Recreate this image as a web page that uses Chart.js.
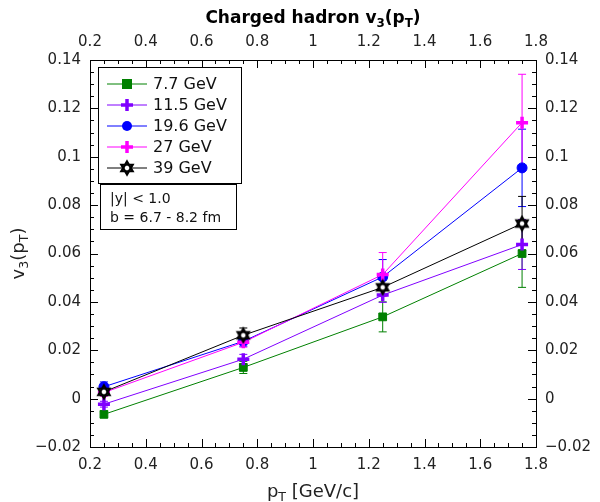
<!DOCTYPE html>
<html>
<head>
<meta charset="utf-8">
<script src="https://cdn.jsdelivr.net/npm/chart.js@4"></script>
<style>
  html, body { margin: 0; padding: 0; background: #fff; }
  #wrap { width: 600px; height: 502px; }
</style>
</head>
<body>
<div id="wrap"><canvas id="myChart" width="600" height="502"></canvas></div>
<script>
// pT bin centres (GeV/c)
const ptBins = [0.25, 0.75, 1.25, 1.75];

// v3 values and errors per beam energy
const v3_7p7 = [-0.0065, 0.0129, 0.0338, 0.0600];
const err_7p7 = [0.0012, 0.0025, 0.0062, 0.0140];
const v3_11p5 = [-0.0023, 0.0163, 0.0428, 0.0637];
const err_11p5 = [0.0012, 0.0020, 0.0030, 0.0103];
const v3_19p6 = [0.0049, 0.0237, 0.0503, 0.0954];
const err_19p6 = [0.0020, 0.0020, 0.0072, 0.0160];
const v3_27 = [0.0025, 0.0233, 0.0513, 0.1141];
const err_27 = [0.0015, 0.0020, 0.0091, 0.0200];
const v3_39 = [0.0028, 0.0262, 0.0460, 0.0724];
const err_39 = [0.0015, 0.0030, 0.0030, 0.0112];

const energyLabels = ['7.7 GeV', '11.5 GeV', '19.6 GeV', '27 GeV', '39 GeV'];
const infoLines = ['|y| < 1.0', 'b = 6.7 - 8.2 fm'];

const xTicks = [0.2, 0.4, 0.6, 0.8, 1.0, 1.2, 1.4, 1.6, 1.8];
const yTicks = [-0.02, 0, 0.02, 0.04, 0.06, 0.08, 0.1, 0.12, 0.14];

const FONT = '"DejaVu Sans", sans-serif';

// hexagram marker (two triangles, thick outline, white centre)
function makeStar(r) {
  const c = document.createElement('canvas');
  const s = Math.ceil(r * 2 + 5);
  c.width = s; c.height = s;
  const g = c.getContext('2d');
  const cx = s / 2, cy = s / 2;
  g.lineWidth = 2.2;
  g.lineJoin = 'miter';
  g.strokeStyle = '#000';
  g.fillStyle = '#fff';
  const tri = (rot) => {
    g.beginPath();
    for (let i = 0; i < 3; i++) {
      const a = rot + i * 2 * Math.PI / 3;
      const px = cx + r * Math.sin(a), py = cy - r * Math.cos(a);
      i ? g.lineTo(px, py) : g.moveTo(px, py);
    }
    g.closePath();
  };
  tri(0); g.fill(); tri(Math.PI); g.fill();
  tri(0); g.stroke(); tri(Math.PI); g.stroke();
  return c;
}
const starImg = makeStar(6.5);

function pts(vals, errs) {
  return ptBins.map((x, i) => ({ x: x, y: vals[i], e: errs[i] }));
}

const series = [
  { label: energyLabels[0], data: pts(v3_7p7, err_7p7), color: '#008000', style: 'rect', radius: 5.5, bw: 1, order: 4 },
  { label: energyLabels[1], data: pts(v3_11p5, err_11p5), color: '#8000ff', style: 'cross', radius: 6, bw: 3.5, order: 3 },
  { label: energyLabels[2], data: pts(v3_19p6, err_19p6), color: '#0000ff', style: 'circle', radius: 5, bw: 1, order: 2 },
  { label: energyLabels[3], data: pts(v3_27, err_27), color: '#ff00ff', style: 'cross', radius: 6, bw: 3.5, order: 1 },
  { label: energyLabels[4], data: pts(v3_39, err_39), color: '#000000', style: starImg, radius: 7, bw: 1, order: 0 }
];

const datasets = series.map(s => ({
  label: s.label,
  data: s.data,
  borderColor: s.color,
  backgroundColor: s.color,
  borderWidth: 1,
  pointStyle: s.style,
  pointRadius: s.radius,
  pointBorderWidth: s.bw,
  pointBorderColor: s.color,
  pointBackgroundColor: s.color,
  order: s.order,
  tension: 0,
  fill: false
}));

function fmt(v) {
  let s = String(Number(v.toFixed(3)));
  return s.replace('-', '\u2212');
}

// error bars with caps, drawn behind the markers
const errorBars = {
  id: 'errorBars',
  beforeDatasetsDraw(chart) {
    const ctx = chart.ctx;
    const ys = chart.scales.y;
    chart.data.datasets.forEach((ds, di) => {
      const meta = chart.getDatasetMeta(di);
      ctx.save();
      ctx.strokeStyle = ds.borderColor;
      ctx.lineWidth = 1;
      meta.data.forEach((p, i) => {
        const d = ds.data[i];
        const top = ys.getPixelForValue(d.y + d.e);
        const bot = ys.getPixelForValue(d.y - d.e);
        ctx.beginPath();
        ctx.moveTo(p.x, top); ctx.lineTo(p.x, bot);
        ctx.moveTo(p.x - 4, top); ctx.lineTo(p.x + 4, top);
        ctx.moveTo(p.x - 4, bot); ctx.lineTo(p.x + 4, bot);
        ctx.stroke();
      });
      ctx.restore();
    });
  }
};

// inward major + minor ticks on all four sides
const innerTicks = {
  id: 'innerTicks',
  afterDraw(chart) {
    const ctx = chart.ctx;
    const a = chart.chartArea;
    const xs = chart.scales.x, ys = chart.scales.y;
    ctx.save();
    ctx.strokeStyle = '#000';
    ctx.lineWidth = 1;
    ctx.beginPath();
    for (let k = 0; k <= 32; k++) {
      const v = 0.2 + k * 0.05;
      const px = Math.round(xs.getPixelForValue(v)) + 0.5;
      const len = k % 4 === 0 ? 8 : 4;
      ctx.moveTo(px, a.bottom); ctx.lineTo(px, a.bottom - len);
      ctx.moveTo(px, a.top); ctx.lineTo(px, a.top + len);
    }
    for (let k = 0; k <= 32; k++) {
      const v = -0.02 + k * 0.005;
      const py = Math.round(ys.getPixelForValue(v)) + 0.5;
      const len = k % 4 === 0 ? 8 : 4;
      ctx.moveTo(a.left, py); ctx.lineTo(a.left + len, py);
      ctx.moveTo(a.right, py); ctx.lineTo(a.right - len, py);
    }
    ctx.stroke();
    ctx.restore();
  }
};

// text with subscripts: parts = [[text, isSub], ...]
function richWidth(ctx, parts, size, bold) {
  let w = 0;
  parts.forEach(([t, sub]) => {
    ctx.font = (bold ? 'bold ' : '') + (sub ? size * 0.7 : size) + 'px ' + FONT;
    w += ctx.measureText(t).width;
  });
  return w;
}
function drawRich(ctx, parts, cx, cy, size, bold) {
  const w = richWidth(ctx, parts, size, bold);
  let x = cx - w / 2;
  ctx.textBaseline = 'alphabetic';
  ctx.textAlign = 'left';
  parts.forEach(([t, sub]) => {
    ctx.font = (bold ? 'bold ' : '') + (sub ? size * 0.7 : size) + 'px ' + FONT;
    ctx.fillText(t, x, cy + (sub ? size * 0.22 : 0));
    x += ctx.measureText(t).width;
  });
}

const titles = {
  id: 'titles',
  afterDraw(chart) {
    const ctx = chart.ctx;
    const a = chart.chartArea;
    const mid = (a.left + a.right) / 2;
    ctx.save();
    ctx.fillStyle = '#000';
    drawRich(ctx, [['Charged hadron v', false], ['3', true], ['(p', false], ['T', true], [')', false]], mid, 23, 17, true);
    ctx.fillStyle = '#222';
    drawRich(ctx, [['p', false], ['T', true], [' [GeV/c]', false]], mid, 497, 18, false);
    ctx.translate(24, (a.top + a.bottom) / 2);
    ctx.rotate(-Math.PI / 2);
    drawRich(ctx, [['v', false], ['3', true], ['(p', false], ['T', true], [')', false]], 0, 0, 18, false);
    ctx.restore();
  }
};

// legend box and info box inside the plot
const legendBoxes = {
  id: 'legendBoxes',
  afterDraw(chart) {
    const ctx = chart.ctx;
    ctx.save();
    ctx.fillStyle = '#fff';
    ctx.strokeStyle = '#000';
    ctx.lineWidth = 1;
    ctx.fillRect(98.5, 67.5, 143, 116);
    ctx.strokeRect(98.5, 67.5, 143, 116);
    series.forEach((s, i) => {
      const y = 84 + i * 21;
      ctx.strokeStyle = s.color;
      ctx.lineWidth = 1;
      ctx.beginPath();
      ctx.moveTo(107, y); ctx.lineTo(147, y);
      ctx.stroke();
      ctx.fillStyle = s.color;
      ctx.strokeStyle = s.color;
      ctx.lineWidth = s.bw;
      if (s.style === 'rect' || s.style === 'circle') {
        ctx.beginPath();
        if (s.style === 'rect') ctx.rect(127 - 5, y - 5, 10, 10);
        else ctx.arc(127, y, 5, 0, Math.PI * 2);
        ctx.fill();
      } else if (s.style === 'cross') {
        ctx.beginPath();
        ctx.moveTo(127 - 6, y); ctx.lineTo(127 + 6, y);
        ctx.moveTo(127, y - 6); ctx.lineTo(127, y + 6);
        ctx.stroke();
      } else {
        ctx.drawImage(s.style, 127 - s.style.width / 2, y - s.style.height / 2);
      }
      ctx.fillStyle = '#111';
      ctx.font = '16px ' + FONT;
      ctx.textBaseline = 'middle';
      ctx.textAlign = 'left';
      ctx.fillText(s.label, 153, y + 1);
    });
    ctx.fillStyle = '#fff';
    ctx.strokeStyle = '#000';
    ctx.lineWidth = 1;
    ctx.fillRect(100.5, 184.5, 136, 45);
    ctx.strokeRect(100.5, 184.5, 136, 45);
    ctx.fillStyle = '#111';
    ctx.font = '14px ' + FONT;
    ctx.textBaseline = 'middle';
    ctx.fillText(infoLines[0], 110, 199);
    ctx.fillText(infoLines[1], 110, 218);
    ctx.restore();
  }
};

function axisOpts(pos, axis, min, max, size) {
  return {
    type: 'linear',
    axis: axis,
    position: pos,
    min: min,
    max: max,
    afterBuildTicks: (sc) => {
      sc.ticks = (axis === 'x' ? xTicks : yTicks).map(v => ({ value: v }));
    },
    afterFit: (sc) => {
      if (axis === 'x') sc.height = size; else sc.width = size;
    },
    grid: { display: false, drawTicks: false },
    border: { display: true, color: '#000', width: 1 },
    ticks: {
      padding: 9,
      color: '#222',
      font: { family: FONT, size: 15 },
      callback: (v) => fmt(v)
    }
  };
}

const ctx = document.getElementById('myChart');

new Chart(ctx, {
  type: 'line',
  data: { datasets: datasets },
  options: {
    responsive: false,
    animation: false,
    layout: { padding: 0 },
    plugins: {
      legend: { display: false },
      title: { display: false },
      tooltip: { enabled: false }
    },
    scales: {
      x: axisOpts('bottom', 'x', 0.2, 1.8, 55),
      x2: axisOpts('top', 'x', 0.2, 1.8, 60),
      y: axisOpts('left', 'y', -0.02, 0.14, 90),
      y2: axisOpts('right', 'y', -0.02, 0.14, 64)
    }
  },
  plugins: [errorBars, innerTicks, titles, legendBoxes]
});
</script>
</body>
</html>
